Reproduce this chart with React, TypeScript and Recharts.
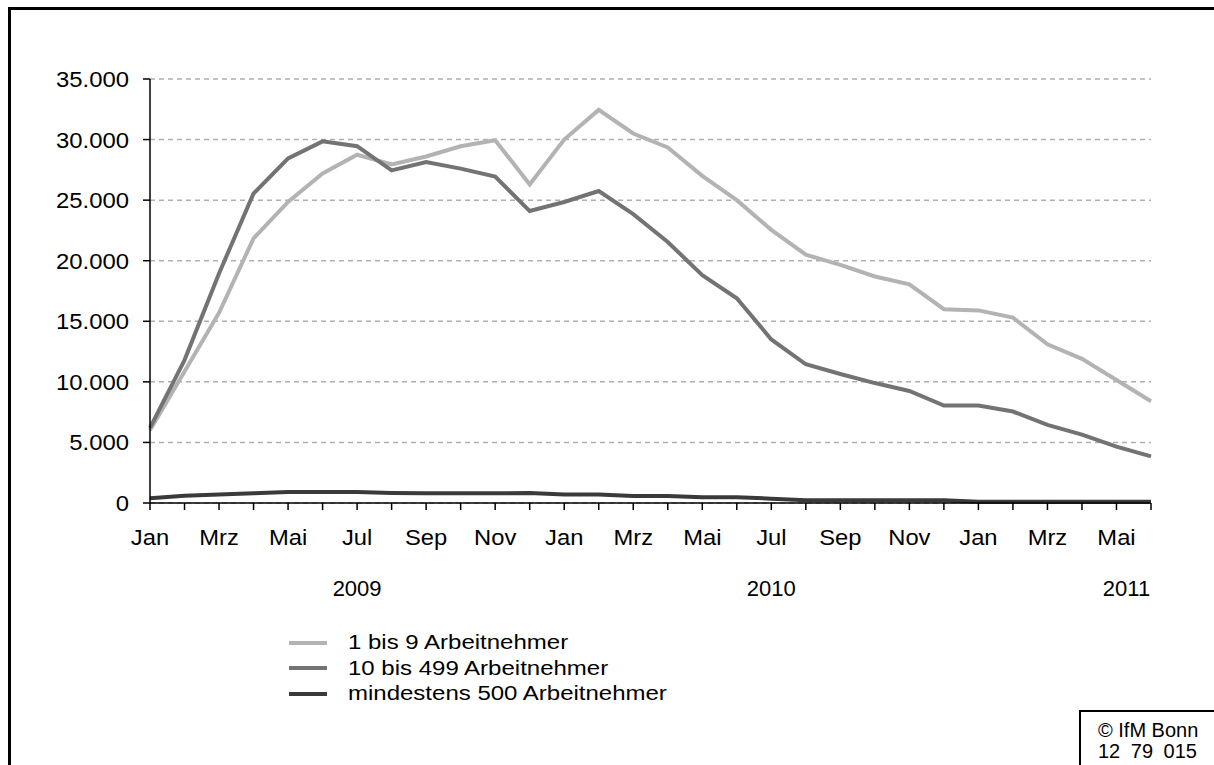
import React from "react";
import { LineChart, Line, XAxis, YAxis, CartesianGrid } from "recharts";

const categories = [
  "2009-01","2009-02","2009-03","2009-04","2009-05","2009-06","2009-07","2009-08","2009-09","2009-10","2009-11","2009-12",
  "2010-01","2010-02","2010-03","2010-04","2010-05","2010-06","2010-07","2010-08","2010-09","2010-10","2010-11","2010-12",
  "2011-01","2011-02","2011-03","2011-04","2011-05","2011-06",
];

const monthLabels = [
  "Jan","","Mrz","","Mai","","Jul","","Sep","","Nov","",
  "Jan","","Mrz","","Mai","","Jul","","Sep","","Nov","",
  "Jan","","Mrz","","Mai","",
];

const yearLabels = ["", "", "", "", "", "", "2009", "", "", "", "", "",
  "", "", "", "", "", "", "2010", "", "", "", "", "",
  "", "", "", "", "2011", ""];

const small = [6000, 10850, 15700, 21850, 24850, 27200, 28750, 27950, 28600, 29450, 29950, 26300,
  30000, 32450, 30500, 29350, 27000, 25000, 22550, 20500, 19650, 18700, 18050, 16000,
  15900, 15300, 13100, 11900, 10150, 8400];

const medium = [6200, 11800, 18950, 25550, 28450, 29850, 29450, 27450, 28150, 27600, 26950, 24100,
  24850, 25750, 23850, 21550, 18800, 16900, 13500, 11450, 10650, 9900, 9250, 8050,
  8050, 7550, 6450, 5650, 4650, 3850];

const large = [400, 600, 700, 800, 900, 900, 900, 820, 800, 800, 800, 820,
  710, 700, 580, 580, 470, 470, 360, 220, 220, 220, 220, 220,
  100, 100, 100, 100, 100, 100];

const yTicks = [0, 5000, 10000, 15000, 20000, 25000, 30000, 35000];

const seriesNames = ["1 bis 9 Arbeitnehmer", "10 bis 499 Arbeitnehmer", "mindestens 500 Arbeitnehmer"];
const seriesColors = ["#b3b3b3", "#737373", "#3a3a3a"];

const data = categories.map((c, i) => ({
  cat: c,
  small: small[i],
  medium: medium[i],
  large: large[i],
}));

const FONT = "Arial, 'Liberation Sans', sans-serif";

const fmt = (v: number) => String(v).replace(/\B(?=(\d{3})+(?!\d))/g, ".");

const XTick = (props: any) => {
  const { x, y, payload } = props;
  let i = payload && typeof payload.index === "number" ? payload.index : -1;
  if (i < 0 || categories[i] !== payload.value) i = categories.indexOf(payload.value);
  const m = monthLabels[i];
  const yr = yearLabels[i];
  const yrShift = i === categories.length - 2 ? 10 : 0;
  return (
    <g>
      {m ? (
        <text transform={`translate(${x},${y + 33}) scale(1.08,1)`} textAnchor="middle" fill="#000" fontSize={22} fontFamily={FONT}>
          {m}
        </text>
      ) : null}
      {yr ? (
        <text transform={`translate(${x + yrShift},${y + 84})`} textAnchor="middle" fill="#000" fontSize={22} fontFamily={FONT}>
          {yr}
        </text>
      ) : null}
    </g>
  );
};

const YTick = (props: any) => {
  const { x, y, payload } = props;
  return (
    <text transform={`translate(${x},${y + 8}) scale(1.085,1)`} textAnchor="end" fill="#000" fontSize={22} fontFamily={FONT}>
      {fmt(payload.value)}
    </text>
  );
};

export default function App() {
  return (
    <div style={{ position: "absolute", left: 0, top: 0, width: 1214, height: 765, background: "#fff", overflow: "hidden" }}>
      <div
        style={{
          position: "absolute",
          left: 8,
          top: 7,
          width: 1300,
          height: 900,
          borderTop: "3px solid #000",
          borderLeft: "3px solid #000",
        }}
      />
      <div style={{ position: "absolute", left: 0, top: 0 }}>
        <LineChart width={1214} height={765} data={data} margin={{ top: 79, right: 63, bottom: 232, left: 90 }}>
          <CartesianGrid vertical={false} stroke="#b0b0b0" strokeWidth={1.5} strokeDasharray="5 4" />
          <XAxis
            dataKey="cat"
            interval={0}
            tick={<XTick />}
            tickSize={7}
            tickLine={{ stroke: "#000", strokeWidth: 1.5 }}
            axisLine={{ stroke: "#000", strokeWidth: 1.5 }}
            height={30}
          />
          <YAxis
            domain={[0, 35000]}
            ticks={yTicks}
            tickSize={7}
            tickMargin={14}
            width={60}
            tick={<YTick />}
            tickLine={{ stroke: "#000", strokeWidth: 1.5 }}
            axisLine={{ stroke: "#000", strokeWidth: 1.5 }}
          />
          <Line type="linear" dataKey="small" name={seriesNames[0]} stroke={seriesColors[0]} strokeWidth={4} dot={false} isAnimationActive={false} />
          <Line type="linear" dataKey="medium" name={seriesNames[1]} stroke={seriesColors[1]} strokeWidth={4} dot={false} isAnimationActive={false} />
          <Line type="linear" dataKey="large" name={seriesNames[2]} stroke={seriesColors[2]} strokeWidth={4} dot={false} isAnimationActive={false} />
        </LineChart>
      </div>
      <div style={{ position: "absolute", left: 289, top: 630, fontFamily: FONT, fontSize: 20, color: "#000" }}>
        {seriesNames.map((n, i) => (
          <div key={n} style={{ display: "flex", alignItems: "center", height: 25.5 }}>
            <div style={{ width: 38, height: 4, background: seriesColors[i], marginRight: 21 }} />
            <span style={{ whiteSpace: "nowrap", display: "inline-block", transform: "scaleX(1.2)", transformOrigin: "left center" }}>{n}</span>
          </div>
        ))}
      </div>
      <div
        style={{
          position: "absolute",
          left: 1079,
          top: 710,
          width: 200,
          height: 100,
          borderTop: "2px solid #000",
          borderLeft: "2px solid #000",
          fontFamily: FONT,
          fontSize: 20,
          lineHeight: "21px",
          paddingTop: 8,
          paddingLeft: 17,
          boxSizing: "border-box",
          color: "#000",
        }}
      >
        <div>© IfM Bonn</div>
        <div style={{ wordSpacing: 5 }}>12 79 015</div>
      </div>
    </div>
  );
}
